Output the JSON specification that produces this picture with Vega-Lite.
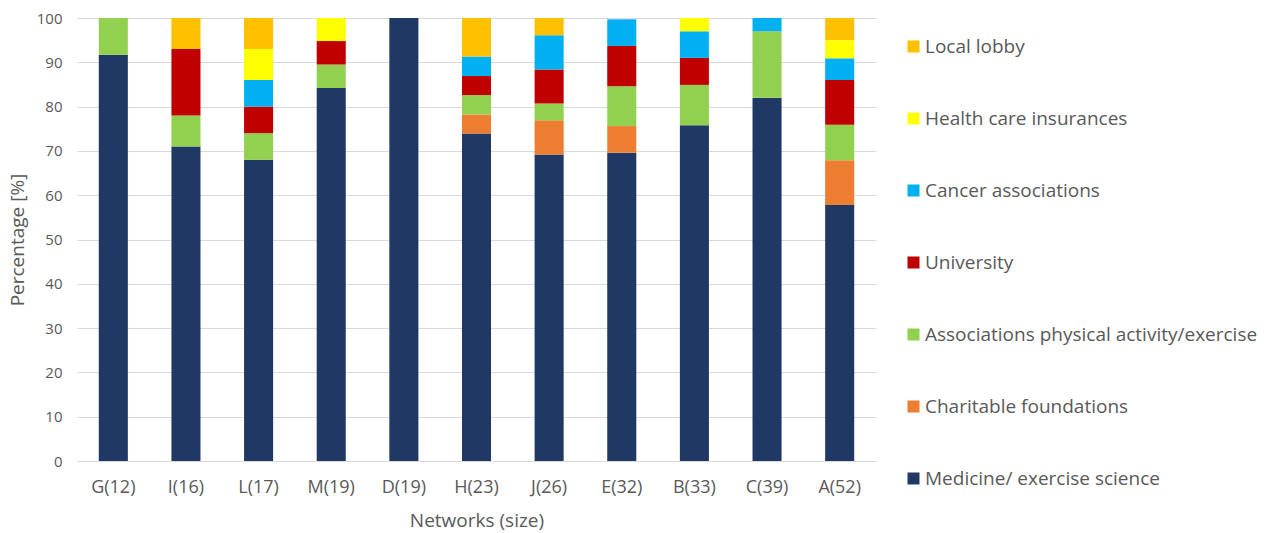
{
  "$schema": "https://vega.github.io/schema/vega-lite/v6.json",
  "width": 799,
  "height": 443,
  "autosize": {"type": "none"},
  "padding": {"left": 77, "top": 18, "right": 390, "bottom": 72},
  "background": "white",
  "config": {
    "view": {"stroke": null},
    "font": "Open Sans",
    "axis": {
      "labelColor": "#595959",
      "titleColor": "#595959",
      "labelFont": "Open Sans",
      "titleFont": "Open Sans",
      "labelFontSize": 15,
      "titleFontSize": 19,
      "titleFontWeight": "normal",
      "ticks": false,
      "domain": false
    },
    "legend": {
      "labelFont": "Open Sans",
      "labelFontSize": 19,
      "labelColor": "#595959"
    }
  },
  "data": {
    "values": [
      {"network": "G(12)", "sector": "Medicine/ exercise science", "pct": 91.7},
      {"network": "G(12)", "sector": "Associations physical activity/exercise", "pct": 8.3},

      {"network": "I(16)", "sector": "Medicine/ exercise science", "pct": 71},
      {"network": "I(16)", "sector": "Associations physical activity/exercise", "pct": 7},
      {"network": "I(16)", "sector": "University", "pct": 15},
      {"network": "I(16)", "sector": "Local lobby", "pct": 7},

      {"network": "L(17)", "sector": "Medicine/ exercise science", "pct": 68},
      {"network": "L(17)", "sector": "Associations physical activity/exercise", "pct": 6},
      {"network": "L(17)", "sector": "University", "pct": 6},
      {"network": "L(17)", "sector": "Cancer associations", "pct": 6},
      {"network": "L(17)", "sector": "Health care insurances", "pct": 7},
      {"network": "L(17)", "sector": "Local lobby", "pct": 7},

      {"network": "M(19)", "sector": "Medicine/ exercise science", "pct": 84.2},
      {"network": "M(19)", "sector": "Associations physical activity/exercise", "pct": 5.3},
      {"network": "M(19)", "sector": "University", "pct": 5.3},
      {"network": "M(19)", "sector": "Health care insurances", "pct": 5.2},

      {"network": "D(19)", "sector": "Medicine/ exercise science", "pct": 100},

      {"network": "H(23)", "sector": "Medicine/ exercise science", "pct": 73.9},
      {"network": "H(23)", "sector": "Charitable foundations", "pct": 4.3},
      {"network": "H(23)", "sector": "Associations physical activity/exercise", "pct": 4.4},
      {"network": "H(23)", "sector": "University", "pct": 4.3},
      {"network": "H(23)", "sector": "Cancer associations", "pct": 4.4},
      {"network": "H(23)", "sector": "Local lobby", "pct": 8.7},

      {"network": "J(26)", "sector": "Medicine/ exercise science", "pct": 69.2},
      {"network": "J(26)", "sector": "Charitable foundations", "pct": 7.7},
      {"network": "J(26)", "sector": "Associations physical activity/exercise", "pct": 3.8},
      {"network": "J(26)", "sector": "University", "pct": 7.7},
      {"network": "J(26)", "sector": "Cancer associations", "pct": 7.7},
      {"network": "J(26)", "sector": "Local lobby", "pct": 3.9},

      {"network": "E(32)", "sector": "Medicine/ exercise science", "pct": 69.6},
      {"network": "E(32)", "sector": "Charitable foundations", "pct": 6},
      {"network": "E(32)", "sector": "Associations physical activity/exercise", "pct": 9},
      {"network": "E(32)", "sector": "University", "pct": 9.1},
      {"network": "E(32)", "sector": "Cancer associations", "pct": 6},

      {"network": "B(33)", "sector": "Medicine/ exercise science", "pct": 75.8},
      {"network": "B(33)", "sector": "Associations physical activity/exercise", "pct": 9.1},
      {"network": "B(33)", "sector": "University", "pct": 6.1},
      {"network": "B(33)", "sector": "Cancer associations", "pct": 6},
      {"network": "B(33)", "sector": "Health care insurances", "pct": 3},

      {"network": "C(39)", "sector": "Medicine/ exercise science", "pct": 82},
      {"network": "C(39)", "sector": "Associations physical activity/exercise", "pct": 15},
      {"network": "C(39)", "sector": "Cancer associations", "pct": 3},

      {"network": "A(52)", "sector": "Medicine/ exercise science", "pct": 57.8},
      {"network": "A(52)", "sector": "Charitable foundations", "pct": 10.1},
      {"network": "A(52)", "sector": "Associations physical activity/exercise", "pct": 8},
      {"network": "A(52)", "sector": "University", "pct": 10.1},
      {"network": "A(52)", "sector": "Cancer associations", "pct": 4.9},
      {"network": "A(52)", "sector": "Health care insurances", "pct": 4.1},
      {"network": "A(52)", "sector": "Local lobby", "pct": 5}
    ]
  },
  "transform": [
    {
      "calculate": "indexof(['Medicine/ exercise science', 'Charitable foundations', 'Associations physical activity/exercise', 'University', 'Cancer associations', 'Health care insurances', 'Local lobby'], datum.sector)",
      "as": "stackOrder"
    }
  ],
  "mark": {"type": "bar"},
  "encoding": {
    "x": {
      "field": "network",
      "type": "nominal",
      "sort": null,
      "title": "Networks (size)",
      "scale": {"paddingInner": 0.6, "paddingOuter": 0.3},
      "axis": {"labelAngle": 0, "labelPadding": 17, "labelFontSize": 18, "titlePadding": 15}
    },
    "y": {
      "field": "pct",
      "type": "quantitative",
      "stack": "zero",
      "title": "Percentage [%]",
      "scale": {"domain": [0, 100], "nice": false},
      "axis": {
        "values": [0, 10, 20, 30, 40, 50, 60, 70, 80, 90, 100],
        "grid": true,
        "gridColor": "#D9D9D9",
        "gridWidth": 1,
        "labelPadding": 15,
        "titlePadding": 9
      }
    },
    "order": {"field": "stackOrder", "type": "quantitative", "sort": "ascending"},
    "color": {
      "field": "sector",
      "type": "nominal",
      "scale": {
        "domain": [
          "Local lobby",
          "Health care insurances",
          "Cancer associations",
          "University",
          "Associations physical activity/exercise",
          "Charitable foundations",
          "Medicine/ exercise science"
        ],
        "range": ["#FFC000", "#FFFF00", "#00B0F0", "#C00000", "#92D050", "#ED7D31", "#203864"]
      },
      "legend": {
        "title": null,
        "orient": "none",
        "legendX": 827,
        "legendY": 19,
        "symbolType": "square",
        "symbolSize": 144,
        "symbolStrokeWidth": 0,
        "labelOffset": 2,
        "rowPadding": 52,
        "padding": 0,
        "labelLimit": 400
      }
    }
  }
}
